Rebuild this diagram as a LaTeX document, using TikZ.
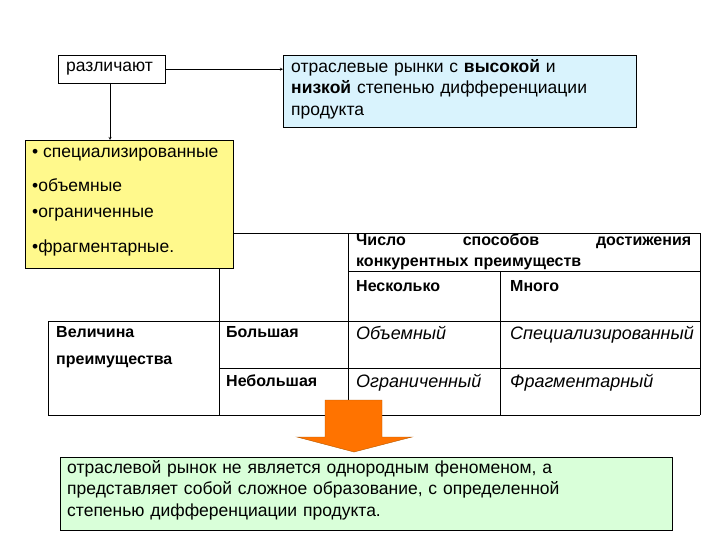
\documentclass[tikz,border=0pt]{standalone}
\usepackage{fontspec}
\setmainfont{Liberation Sans}
\begin{document}
\begin{tikzpicture}[x=1pt,y=-1pt,
  box/.style={draw,inner sep=0pt},
  txt/.style={anchor=north west,inner sep=0pt,font=\fontsize{17.5}{21.5}\selectfont},
  bt/.style={anchor=north west,inner sep=0pt,font=\fontsize{16}{21}\selectfont\bfseries},
  it/.style={anchor=north west,inner sep=0pt,font=\fontsize{18}{20}\selectfont\itshape},
  tl/.style={line width=0.7pt}]
\useasboundingbox (0,0) rectangle (720,540);
\node[box,minimum width=107,minimum height=28,anchor=north west] (r) at (58,55) {};
\node[txt,anchor=west] at (66,69) {различают};
\node[box,fill=cyan!15,minimum width=353,minimum height=72,anchor=north west] (c) at (283,55) {};
\node[txt,text width=345] at (291,59) {отраслевые рынки с \textbf{высокой} и\\ \textbf{низкой} степенью дифференциации\\ продукта};
\draw[-stealth] (r.east) -- (r.east -| c.west);
\node[box,fill=yellow!45,minimum width=208,minimum height=128,anchor=north west] (y) at (25,140) {};
\coordinate (ytop) at (110,140);
\draw[-stealth] (110,83) -- (ytop);
\node[txt] at (32,148) {• специализированные};
\node[txt] at (32,178) {•объемные};
\node[txt] at (32,208) {•ограниченные};
\node[txt] at (32,240) {•фрагментарные.};
% table
\draw[tl] (233,233) -- (700,233);
\draw[tl] (219,268) -- (219,415);
\draw[tl] (348,233) -- (348,415);
\draw[tl] (500,271) -- (500,415);
\draw[tl] (700,233) -- (700,415);
\draw[tl] (348,271) -- (700,271);
\draw[tl] (219,321) -- (700,321);
\draw[tl] (219,368) -- (700,368);
\draw[tl] (219,415) -- (700,415);
\node[box,line width=1.2pt,minimum width=171,minimum height=94,anchor=north west] (v) at (48,321) {};
\node[bt,text width=335] at (356,234) {Число\hfill способов\hfill достижения\\ конкурентных преимуществ};
\node[bt] at (356,280) {Несколько};
\node[bt] at (510,280) {Много};
\node[bt] at (56,326) {Величина};
\node[bt] at (56,356) {преимущества};
\node[bt] at (226,326) {Большая};
\node[bt] at (226,375) {Небольшая};
\node[it] at (356,326) {Объемный};
\node[it] at (510,326) {Специализированный};
\node[it] at (356,374) {Ограниченный};
\node[it] at (510,374) {Фрагментарный};
% green box
\node[box,fill=green!15,minimum width=612,minimum height=73,anchor=north west] (g) at (60,457) {};
\node[txt,text width=600] at (67,460) {отраслевой рынок не является однородным феноменом, а\\ представляет собой сложное образование, с определенной\\ степенью дифференциации продукта.};
% orange arrow
\draw[fill=orange!90!red,draw=orange!70!black] (325,400) -- (382,400) -- (382,437) -- (412,437) -- (354,452) -- (297,437) -- (325,437) -- cycle;
\end{tikzpicture}
\end{document}
